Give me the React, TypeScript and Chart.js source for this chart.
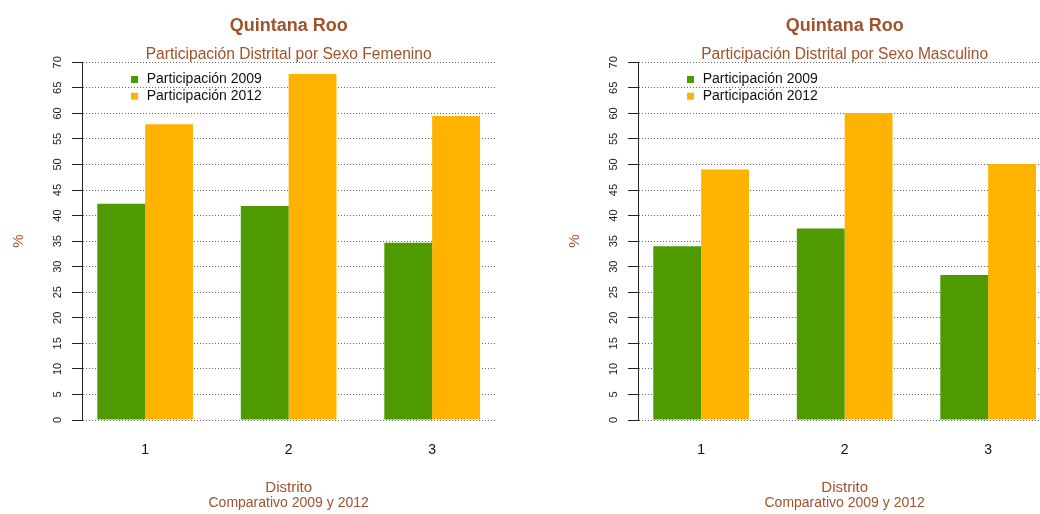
import React, { useEffect, useRef } from "react";
import { Chart, registerables } from "chart.js";

Chart.register(...registerables);

const distritos = [1, 2, 3];
const fem2009 = [42.3, 41.9, 34.7];
const fem2012 = [57.9, 67.7, 59.5];
const mas2009 = [34.0, 37.5, 28.4];
const mas2012 = [49.0, 60.1, 50.1];
const yTicks = [0, 5, 10, 15, 20, 25, 30, 35, 40, 45, 50, 55, 60, 65, 70];
const seriesLabels = ["Participación 2009", "Participación 2012"];
const mainTitle = "Quintana Roo";
const subtitles = [
  "Participación Distrital por Sexo Femenino",
  "Participación Distrital por Sexo Masculino",
];
const xTitle = "Distrito";
const xSubTitle = "Comparativo 2009 y 2012";
const yTitle = "%";

const GREEN = "#4E9A00";
const ORANGE = "#FFB300";
const BROWN = "#A0522D";
const FONT = "'Liberation Sans', Arial, Helvetica, sans-serif";

function makeTextPlugin(subtitle: string) {
  return {
    id: "panelText",
    afterDraw(chart: any) {
      const ctx = chart.ctx;
      const ca = chart.chartArea;
      const cx = (ca.left + ca.right) / 2;
      ctx.save();
      ctx.textBaseline = "alphabetic";
      ctx.textAlign = "center";
      ctx.fillStyle = BROWN;
      ctx.font = `bold 18px ${FONT}`;
      ctx.fillText(mainTitle, cx, 31);
      ctx.font = `15.6px ${FONT}`;
      ctx.fillText(subtitle, cx, 58.5);
      ctx.font = `15px ${FONT}`;
      ctx.fillText(xTitle, cx, 491.5);
      ctx.font = `14px ${FONT}`;
      ctx.fillText(xSubTitle, cx, 507);
      // y title
      ctx.save();
      ctx.translate(23, (ca.top + ca.bottom) / 2);
      ctx.rotate(-Math.PI / 2);
      ctx.font = `15px ${FONT}`;
      ctx.textAlign = "center";
      ctx.textBaseline = "alphabetic";
      ctx.fillText(yTitle, 0, 0);
      ctx.restore();
      // y tick labels
      const ys = chart.scales.y;
      ctx.fillStyle = "#222";
      ctx.font = `11px ${FONT}`;
      ys.ticks.forEach((t: any) => {
        const py = ys.getPixelForValue(t.value);
        ctx.save();
        ctx.translate(61, py);
        ctx.rotate(-Math.PI / 2);
        ctx.textAlign = "center";
        ctx.textBaseline = "alphabetic";
        ctx.fillText(String(t.value), 0, 0);
        ctx.restore();
      });
      // legend
      const colors = [GREEN, ORANGE];
      ctx.font = `14px ${FONT}`;
      ctx.textAlign = "left";
      seriesLabels.forEach((lab, i) => {
        const base = 83.3 + i * 16.7;
        ctx.fillStyle = colors[i];
        ctx.fillRect(ca.left + 49, base - 7.3, 7, 7);
        ctx.fillStyle = "#111";
        ctx.fillText(lab, ca.left + 64.7, base);
      });
      ctx.restore();
    },
  };
}

function Panel({ subtitle, v2009, v2012, left }: { subtitle: string; v2009: number[]; v2012: number[]; left: number }) {
  const ref = useRef<HTMLCanvasElement | null>(null);
  useEffect(() => {
    if (!ref.current) return;
    const chart = new Chart(ref.current, {
      type: "bar",
      data: {
        datasets: [
          {
            label: seriesLabels[0],
            data: distritos.map((d, i) => ({ x: d, y: v2009[i] })),
            backgroundColor: GREEN,
            borderWidth: 0,
            categoryPercentage: 2 / 3,
            barPercentage: 1,
          },
          {
            label: seriesLabels[1],
            data: distritos.map((d, i) => ({ x: d, y: v2012[i] })),
            backgroundColor: ORANGE,
            borderWidth: 0,
            categoryPercentage: 2 / 3,
            barPercentage: 1,
          },
        ],
      } as any,
      options: {
        responsive: false,
        animation: false,
        layout: { padding: { left: 42, right: 24.7, top: 62.3, bottom: 54 } },
        plugins: {
          legend: { display: false },
          title: { display: false },
          tooltip: { enabled: false },
        },
        scales: {
          x: {
            type: "linear",
            min: 0.56,
            max: 3.44,
            offset: false,
            grid: { display: false, drawTicks: false, offset: false },
            border: { display: false },
            afterBuildTicks: (s: any) => {
              s.ticks = distritos.map((v) => ({ value: v }));
            },
            afterFit: (s: any) => {
              s.height = 40;
            },
            ticks: {
              callback: (v: any) => String(v),
              color: "#111",
              font: { family: FONT, size: 14 },
              padding: 22,
              autoSkip: false,
              maxRotation: 0,
              minRotation: 0,
            },
          },
          y: {
            type: "linear",
            min: 0,
            max: 70,
            afterBuildTicks: (s: any) => {
              s.ticks = yTicks.map((v) => ({ value: v }));
            },
            afterFit: (s: any) => {
              s.width = 40;
            },
            ticks: { display: false },
            grid: {
              color: "#666",
              lineWidth: 1,
              drawTicks: true,
              tickLength: 10,
              tickColor: "#222",
              tickWidth: 1,
              tickBorderDash: [],
            },
            border: { display: true, color: "#222", width: 1, dash: [1, 2], dashOffset: 0 },
          },
        },
      } as any,
      plugins: [makeTextPlugin(subtitle)],
    });
    return () => chart.destroy();
  }, [subtitle, v2009, v2012]);
  return (
    <canvas
      ref={ref}
      width={520}
      height={514}
      style={{ position: "absolute", left, top: 0, width: 520, height: 514, display: "block" }}
    />
  );
}

export default function App() {
  return (
    <div
      style={{
        position: "absolute",
        left: 0,
        top: 0,
        width: 1040,
        height: 514,
        overflow: "hidden",
        background: "#fff",
      }}
    >
      <Panel subtitle={subtitles[0]} v2009={fem2009} v2012={fem2012} left={0} />
      <Panel subtitle={subtitles[1]} v2009={mas2009} v2012={mas2012} left={556} />
    </div>
  );
}
